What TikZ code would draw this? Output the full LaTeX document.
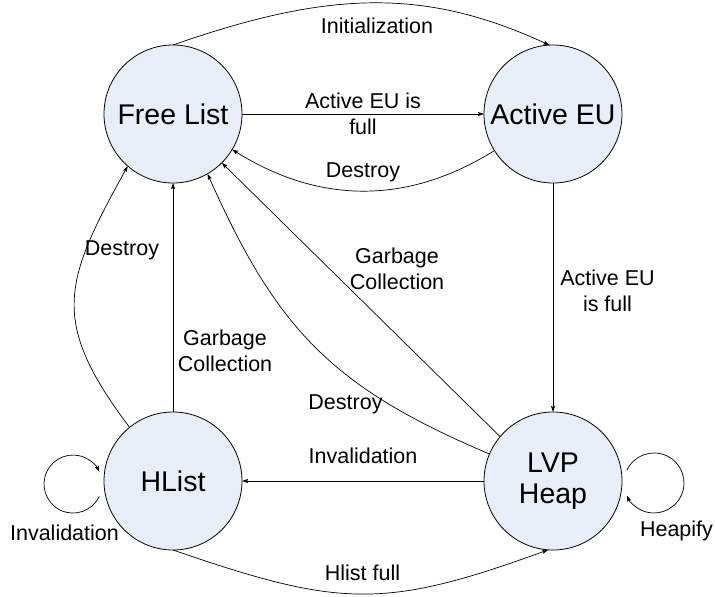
\documentclass[tikz,border=0pt]{standalone}
\usepackage{fontspec}
\setmainfont{Liberation Sans}
\usetikzlibrary{arrows.meta}
\definecolor{statefill}{RGB}{232,238,247}
\tikzset{
  x=1pt,y=1pt,
  state/.style={circle,draw=black,line width=0.8pt,fill=statefill,minimum size=138pt,inner sep=0pt,outer sep=0pt,align=center,font=\fontsize{28.5}{31}\selectfont},
  lbl/.style={anchor=base,inner sep=0pt,align=center,font=\fontsize{21.5}{26}\selectfont},
  arr/.style={line width=0.7pt,-{Stealth[length=6pt,width=4pt,inset=1pt]}}
}
\begin{document}
\begin{tikzpicture}
\useasboundingbox (0,0) rectangle (715,-597);
\node[state] (FL) at (173,-114) {Free List};
\node[state] (AE) at (553,-114) {Active EU};
\node[state] (HL) at (173,-481) {HList};
\node[state] (LVP) at (553,-481) {LVP\\Heap};

% edges
\draw[arr] (FL.90) .. controls +(157,55) and +(-124,57) .. (AE.93);
\draw[arr] (FL.east) -- (AE.west);
\draw[arr] (AE.212) to[out=212,in=-32] (FL.-31);
\draw[arr] (AE.south) -- (LVP.north);
\draw[arr] (HL.north) -- (FL.south);
\draw[arr] (HL.129) to[out=127,in=241,looseness=1.3] (FL.229);
\draw[arr] (HL.south) to[out=-19,in=200,looseness=1.2] (LVP.-94);
\draw[arr] (LVP.west) -- (HL.east);
\draw[arr] (LVP.140) -- (FL.-45);
\draw[arr] (LVP.157) to[out=157,in=-66,looseness=1.1] (FL.-60);
\draw[arr] ([shift={(-4.7,-15.3)}]HL.west) arc[start angle=-25,end angle=-335,radius=29];
\draw[arr] ([shift={(4.8,10.7)}]LVP.east) arc[start angle=155,end angle=-155,radius=30];

% labels (base = baseline of last line)
\node[lbl] (lInit) at (377,-33) {Initialization};
\node[lbl] (lAEfull) at (363,-134) {Active EU is\\full};
\node[lbl] (lDes1) at (363,-177) {Destroy};
\node[lbl] (lDes2) at (122,-255) {Destroy};
\node[lbl] (lGC1) at (225,-371) {Garbage\\Collection};
\node[lbl] (lGC2) at (397,-289) {Garbage\\Collection};
\node[lbl] (lDes3) at (345.5,-409) {Destroy};
\node[lbl] (lInv) at (363,-463) {Invalidation};
\node[lbl] (lHfull) at (362.5,-580) {Hlist full};
\node[lbl] (lInv2) at (64.5,-540) {Invalidation};
\node[lbl] (lHeap) at (676.5,-536) {Heapify};
\node[lbl] (lAE2) at (607.5,-311) {Active EU\\is full};
\end{tikzpicture}
\end{document}
